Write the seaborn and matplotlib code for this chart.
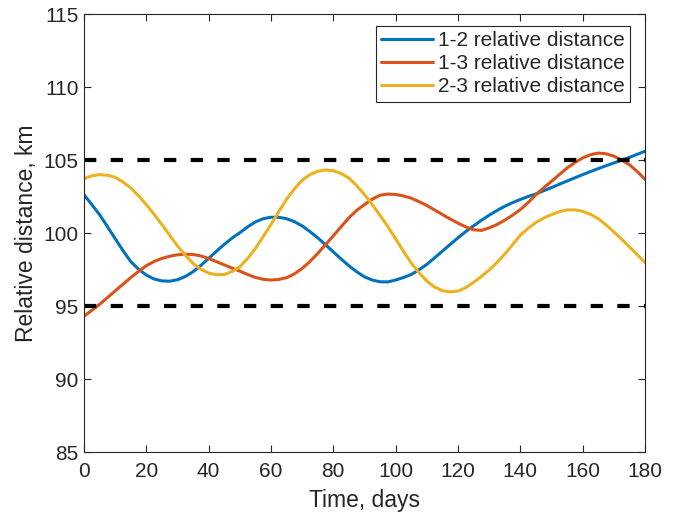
import matplotlib

matplotlib.use("Agg")
import numpy as np
import pandas as pd
import seaborn as sns
import matplotlib.pyplot as plt

# Time samples (days), every 2.5 days, and read-off relative distances (km)
days = np.arange(0, 180.1, 2.5)

dist_12 = [102.63, 101.95, 101.26, 100.45, 99.62, 98.80, 98.05, 97.52, 97.12, 96.85,
           96.72, 96.70, 96.80, 97.02, 97.35, 97.78, 98.26, 98.75, 99.22, 99.65,
           100.02, 100.42, 100.76, 100.98, 101.08, 101.08, 100.98, 100.78, 100.49, 100.10,
           99.67, 99.20, 98.71, 98.22, 97.76, 97.35, 97.00, 96.78, 96.66, 96.65,
           96.78, 96.95, 97.16, 97.48, 97.85, 98.30, 98.76, 99.22, 99.67, 100.10,
           100.49, 100.87, 101.22, 101.54, 101.83, 102.08, 102.30, 102.50, 102.68, 102.90,
           103.11, 103.34, 103.56, 103.78, 104.00, 104.21, 104.41, 104.61, 104.80, 104.99,
           105.18, 105.39, 105.60]

dist_13 = [94.30, 94.70, 95.11, 95.57, 96.03, 96.49, 96.94, 97.37, 97.76, 98.05,
           98.26, 98.41, 98.51, 98.55, 98.53, 98.43, 98.26, 98.04, 97.82, 97.60,
           97.39, 97.16, 96.96, 96.83, 96.78, 96.82, 96.94, 97.20, 97.57, 98.05,
           98.60, 99.20, 99.81, 100.43, 101.04, 101.55, 101.95, 102.32, 102.59, 102.67,
           102.64, 102.54, 102.39, 102.15, 101.89, 101.58, 101.27, 100.96, 100.68, 100.42,
           100.22, 100.18, 100.35, 100.58, 100.88, 101.22, 101.60, 102.08, 102.62, 103.10,
           103.54, 104.00, 104.45, 104.83, 105.14, 105.36, 105.48, 105.43, 105.27, 105.00,
           104.68, 104.22, 103.68]

dist_23 = [103.72, 103.92, 104.00, 103.96, 103.82, 103.50, 103.09, 102.55, 101.95, 101.28,
           100.58, 99.85, 99.12, 98.48, 97.92, 97.52, 97.26, 97.14, 97.16, 97.36,
           97.69, 98.25, 98.94, 99.75, 100.58, 101.46, 102.31, 103.02, 103.61, 104.00,
           104.23, 104.32, 104.27, 104.08, 103.77, 103.25, 102.63, 101.95, 101.20, 100.45,
           99.60, 98.75, 97.95, 97.28, 96.71, 96.30, 96.05, 95.97, 96.02, 96.26,
           96.62, 97.02, 97.46, 97.98, 98.55, 99.20, 99.85, 100.32, 100.72, 101.02,
           101.26, 101.46, 101.58, 101.58, 101.49, 101.28, 100.99, 100.56, 100.08, 99.58,
           99.05, 98.52, 97.98]

series_names = ["1-2 relative distance", "1-3 relative distance", "2-3 relative distance"]
series_colors = ["#0072BD", "#D95319", "#EDB120"]
limits = [95, 105]

df = pd.concat(
    [
        pd.DataFrame({"Time": days, "Distance": vals, "Pair": name})
        for name, vals in zip(series_names, [dist_12, dist_13, dist_23])
    ],
    ignore_index=True,
)

sns.set_theme(style="ticks")
plt.rcParams["font.family"] = ["Liberation Sans", "DejaVu Sans"]

fig = plt.figure(figsize=(6.75, 5.16), dpi=100)
ax = fig.add_axes([0.1244, 0.124, 0.8311, 0.8488])

sns.lineplot(
    data=df, x="Time", y="Distance", hue="Pair",
    palette=dict(zip(series_names, series_colors)),
    linewidth=2.2, ax=ax,
)

for lim in limits:
    ax.axhline(lim, color="black", linewidth=3, linestyle=(0, (2.95, 3.45)))

ax.set_xlim(0, 180)
ax.set_ylim(85, 115)
ax.set_xticks(range(0, 181, 20))
ax.set_yticks(range(85, 116, 5))
ax.set_xlabel("Time, days", fontsize=16.5, color="#262626", labelpad=6)
ax.set_ylabel("Relative distance, km", fontsize=16.5, color="#262626", labelpad=4)
ax.tick_params(direction="in", length=5, width=0.8, labelsize=15,
               colors="#262626", top=True, right=True)
ax.tick_params(axis="x", pad=7)
ax.tick_params(axis="y", pad=4)
for sp in ax.spines.values():
    sp.set_visible(True)
    sp.set_color("#262626")
    sp.set_linewidth(0.8)

leg = ax.legend(
    loc="upper right", bbox_to_anchor=(0.973, 0.973), fontsize=15,
    frameon=True, fancybox=False, framealpha=1, edgecolor="#262626",
    handlelength=2.45, borderpad=0.25, labelspacing=0.2, handletextpad=0.25,
    borderaxespad=0,
)
leg.get_frame().set_linewidth(0.8)

plt.savefig("out.png", dpi=100)
